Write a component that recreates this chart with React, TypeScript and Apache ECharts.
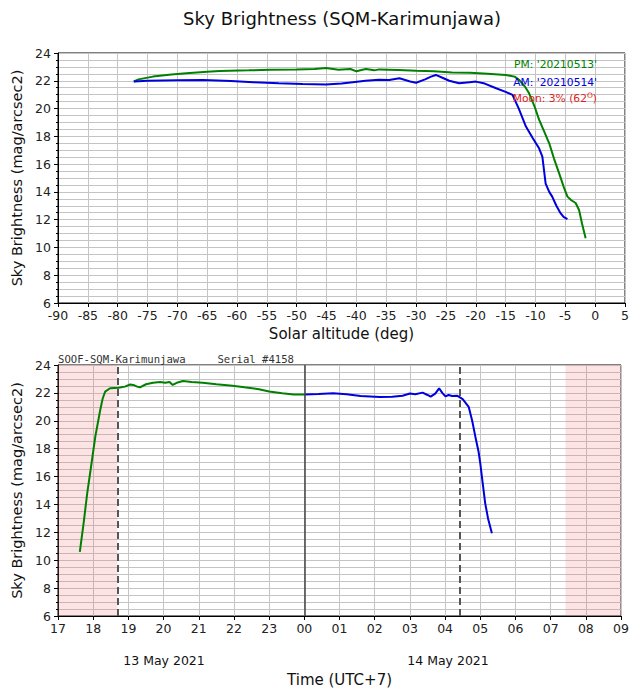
import React, { useEffect, useRef } from "react";
import * as echarts from "echarts";

// Top panel: solar altitude (deg) vs sky brightness
const pmAltitude: [number, number][] = [
  [-77.3, 21.95], [-76.5, 22.1], [-74.1, 22.3], [-71, 22.45], [-68.5, 22.55], [-65, 22.65],
  [-62.9, 22.7], [-58, 22.75], [-54.5, 22.8], [-50, 22.82], [-47, 22.85], [-45.1, 22.92],
  [-43, 22.8], [-41, 22.85], [-40, 22.68], [-39, 22.8], [-38.4, 22.85], [-37, 22.75],
  [-36.2, 22.82], [-33, 22.78], [-30, 22.72], [-27, 22.68], [-24, 22.6], [-21, 22.58],
  [-18, 22.5], [-15, 22.42], [-13.5, 22.3], [-12.7, 22.05], [-11.8, 21.6], [-11.07, 21.1],
  [-10.2, 20.2], [-9.4, 19.2], [-8.5, 18.3], [-7.7, 17.5], [-6.9, 16.4], [-6.05, 15.35],
  [-5.3, 14.4], [-4.65, 13.66], [-4.0, 13.4], [-3.27, 13.2], [-2.7, 12.7], [-2.2, 11.7],
  [-1.6, 10.67],
];
const amAltitude: [number, number][] = [
  [-77.3, 21.95], [-75, 22.0], [-70, 22.03], [-65.7, 22.05], [-61, 21.98], [-57.3, 21.9],
  [-53, 21.82], [-49, 21.77], [-45.1, 21.74], [-42.5, 21.8], [-40.6, 21.9], [-38.5, 22.0],
  [-36.2, 22.08], [-34.5, 22.05], [-32.8, 22.18], [-31, 21.95], [-30, 21.86], [-28.5, 22.1],
  [-27.5, 22.3], [-26.7, 22.42], [-25.5, 22.2], [-24.45, 22.0], [-22.8, 21.82], [-21, 21.9],
  [-20, 21.94], [-18.5, 21.8], [-16.6, 21.46], [-15, 21.2], [-13.85, 20.98], [-12.8, 20.0],
  [-11.6, 18.7], [-10.5, 17.9], [-9.4, 17.14], [-8.85, 16.54], [-8.3, 14.6], [-7.7, 14.0],
  [-7.2, 13.66], [-6.5, 13.0], [-5.8, 12.47], [-5.3, 12.2], [-4.65, 12.04],
];

// Bottom panel: time (hours since 00 on 13 May, UTC+7) vs sky brightness
const pmTime: [number, number][] = [
  [17.62, 10.6], [17.73, 12.7], [17.83, 14.8], [17.95, 16.9], [18.06, 18.86], [18.2, 20.77],
  [18.27, 21.6], [18.34, 22.09], [18.48, 22.33], [18.6, 22.35], [18.72, 22.37], [18.9, 22.45],
  [19.05, 22.6], [19.14, 22.57], [19.25, 22.45], [19.33, 22.4], [19.5, 22.62], [19.7, 22.73],
  [19.9, 22.78], [20.05, 22.72], [20.17, 22.78], [20.26, 22.57], [20.4, 22.75], [20.55, 22.85],
  [20.8, 22.78], [21.11, 22.72], [21.5, 22.62], [21.96, 22.52], [22.3, 22.4], [22.71, 22.26],
  [23.0, 22.1], [23.37, 21.97], [23.7, 21.88], [24.0, 21.88],
];
const amTime: [number, number][] = [
  [24.0, 21.88], [24.4, 21.92], [24.82, 21.97], [25.2, 21.9], [25.6, 21.78], [26.14, 21.7],
  [26.5, 21.72], [26.79, 21.8], [27.0, 21.95], [27.15, 21.9], [27.36, 22.02], [27.5, 21.85],
  [27.59, 21.73], [27.72, 21.95], [27.83, 22.33], [27.92, 22.0], [28.01, 21.75], [28.1, 21.85],
  [28.2, 21.78], [28.34, 21.8], [28.5, 21.55], [28.67, 21.0], [28.77, 20.0], [28.86, 18.86],
  [28.95, 17.8], [29.0, 16.95], [29.07, 15.5], [29.14, 14.08], [29.22, 13.0], [29.33, 11.93],
];

const nightShade: [number, number][] = [[17, 18.69], [31.42, 33]];
const dashedMarks = [18.69, 28.41];
const midnight = 24;

const legendTexts = ["PM: '20210513'", "AM: '20210514'"];
const dateLabels = ["13 May 2021", "14 May 2021"];

const FONT = "DejaVu Sans";
const GREEN = "#008000";
const BLUE = "#0000dd";
const RED = "#dd2222";
const GRID_COLOR = "#c4c4c4";
const TICK_FS = 12.5;

function yAxisCfg(gridIndex: number) {
  return {
    type: "value",
    gridIndex,
    min: 6,
    max: 24,
    interval: 2,
    name: "Sky Brightness (mag/arcsec2)",
    nameLocation: "middle",
    nameGap: 31,
    nameTextStyle: { fontFamily: FONT, fontSize: 14.5, color: "#111" },
    axisLine: { show: true, onZero: false, lineStyle: { color: "#000", width: 1 } },
    axisTick: { show: true, length: 4, lineStyle: { color: "#000" } },
    minorTick: { show: true, splitNumber: 4, length: 2, lineStyle: { color: "#000" } },
    axisLabel: { fontFamily: FONT, fontSize: TICK_FS, color: "#222", margin: 7 },
    splitLine: { show: true, lineStyle: { color: GRID_COLOR, width: 1 } },
    minorSplitLine: { show: true, lineStyle: { color: GRID_COLOR, width: 1 } },
  };
}

export default function App() {
  const ref = useRef<HTMLDivElement>(null);
  useEffect(() => {
    if (!ref.current) return;
    const chart = echarts.init(ref.current, null, { renderer: "svg" });
    const option: any = {
      animation: false,
      backgroundColor: "#fff",
      grid: [
        { left: 58, top: 53, width: 569, height: 250, show: true, borderColor: "#000", borderWidth: 1, backgroundColor: "transparent" },
        { left: 58, top: 365, width: 569, height: 251, show: true, borderColor: "#000", borderWidth: 1, backgroundColor: "transparent" },
      ],
      xAxis: [
        {
          type: "value",
          gridIndex: 0,
          min: -90,
          max: 5,
          interval: 5,
          name: "Solar altitude (deg)",
          nameLocation: "middle",
          nameGap: 23,
          nameTextStyle: { fontFamily: FONT, fontSize: 15, color: "#111" },
          axisLine: { show: true, onZero: false, lineStyle: { color: "#000" } },
          axisTick: { show: true, length: 4, lineStyle: { color: "#000" } },
          axisLabel: { fontFamily: FONT, fontSize: TICK_FS, color: "#222", margin: 6 },
          splitLine: { show: true, lineStyle: { color: GRID_COLOR } },
        },
        {
          type: "value",
          gridIndex: 1,
          min: 17,
          max: 33,
          interval: 1,
          name: "Time (UTC+7)",
          nameLocation: "middle",
          nameGap: 56,
          nameTextStyle: { fontFamily: FONT, fontSize: 15, color: "#111" },
          axisLine: { show: true, onZero: false, lineStyle: { color: "#000" } },
          axisTick: { show: true, length: 4, lineStyle: { color: "#000" } },
          axisLabel: {
            fontFamily: FONT,
            fontSize: TICK_FS,
            color: "#222",
            margin: 6,
            formatter: (v: number) => String(Math.round(v) % 24).padStart(2, "0"),
          },
          splitLine: { show: true, lineStyle: { color: GRID_COLOR } },
        },
      ],
      yAxis: [yAxisCfg(0), yAxisCfg(1)],
      series: [
        {
          type: "line",
          xAxisIndex: 0,
          yAxisIndex: 0,
          data: pmAltitude,
          showSymbol: false,
          lineStyle: { color: GREEN, width: 2 },
          z: 3,
        },
        {
          type: "line",
          xAxisIndex: 0,
          yAxisIndex: 0,
          data: amAltitude,
          showSymbol: false,
          lineStyle: { color: BLUE, width: 2 },
          z: 4,
        },
        {
          type: "line",
          xAxisIndex: 1,
          yAxisIndex: 1,
          data: pmTime,
          showSymbol: false,
          lineStyle: { color: GREEN, width: 2 },
          z: 3,
          markArea: {
            silent: true,
            itemStyle: { color: "rgba(240,120,120,0.2)" },
            data: nightShade.map(([a, b]) => [{ xAxis: a }, { xAxis: b }]),
          },
          markLine: {
            silent: true,
            symbol: ["none", "none"],
            label: { show: false },
            data: [
              ...dashedMarks.map((x) => ({ xAxis: x, lineStyle: { color: "#555", width: 2, type: [7, 4] } })),
              { xAxis: midnight, lineStyle: { color: "#444", width: 1.5, type: "solid" } },
            ],
          },
        },
        {
          type: "line",
          xAxisIndex: 1,
          yAxisIndex: 1,
          data: amTime,
          showSymbol: false,
          lineStyle: { color: BLUE, width: 2 },
          z: 4,
        },
      ],
      graphic: [
        {
          type: "text",
          x: 342,
          y: 18,
          style: { text: "Sky Brightness (SQM-Karimunjawa)", fontFamily: FONT, fontSize: 18, fill: "#111", align: "center", verticalAlign: "middle" },
        },
        {
          type: "text",
          x: 597,
          y: 64,
          z: 10,
          style: { text: legendTexts[0], fontFamily: FONT, fontSize: 10.7, fill: GREEN, align: "right", verticalAlign: "middle" },
        },
        {
          type: "text",
          x: 597,
          y: 82,
          z: 10,
          style: { text: legendTexts[1], fontFamily: FONT, fontSize: 10.7, fill: BLUE, align: "right", verticalAlign: "middle" },
        },
        {
          type: "text",
          x: 597,
          y: 98,
          z: 10,
          style: {
            text: "{a|Moon: 3% (62}{s|O}{a|)}",
            fill: RED,
            align: "right",
            verticalAlign: "middle",
            rich: {
              a: { fontFamily: FONT, fontSize: 10.7, fill: RED },
              s: { fontFamily: FONT, fontSize: 7.5, fill: RED, verticalAlign: "top", padding: [0, 0, 6, 0] },
            },
          },
        },
        {
          type: "text",
          x: 58,
          y: 359,
          style: {
            text: "SOOF-SQM-Karimunjawa     Serial #4158",
            fontFamily: "DejaVu Sans Mono",
            fontSize: 10.6,
            fill: "#333",
            verticalAlign: "middle",
          },
        },
        {
          type: "text",
          x: 164,
          y: 660,
          style: { text: dateLabels[0], fontFamily: FONT, fontSize: 12.5, fill: "#111", align: "center", verticalAlign: "middle" },
        },
        {
          type: "text",
          x: 448,
          y: 660,
          style: { text: dateLabels[1], fontFamily: FONT, fontSize: 12.5, fill: "#111", align: "center", verticalAlign: "middle" },
        },
      ],
    };
    chart.setOption(option);
    return () => chart.dispose();
  }, []);
  return <div ref={ref} style={{ position: "fixed", left: 0, top: 0, width: 632, height: 693 }} />;
}
